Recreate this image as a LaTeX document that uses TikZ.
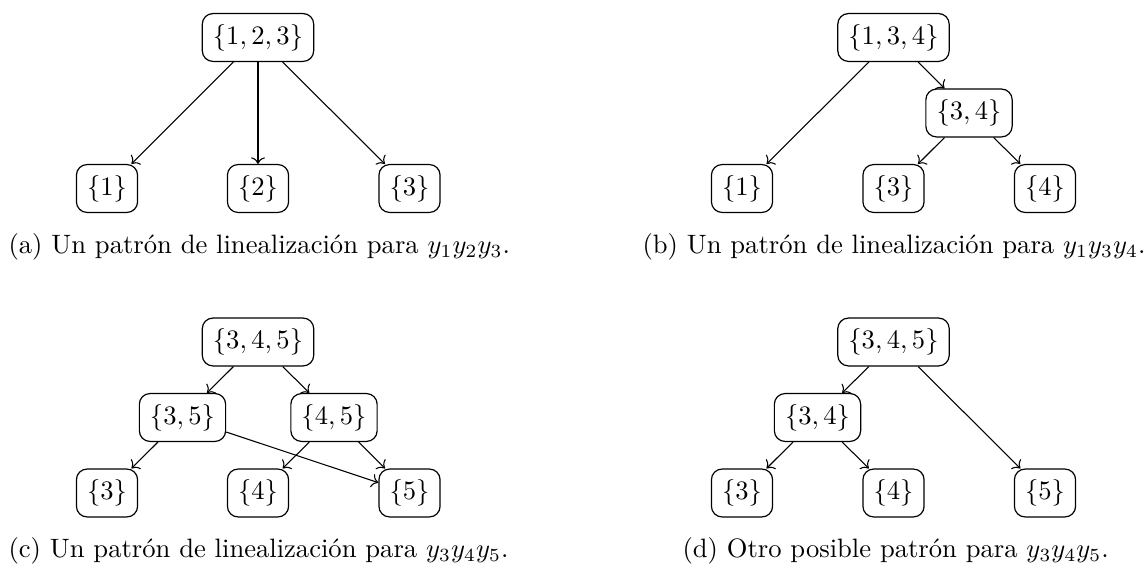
\documentclass[tikz,border=0pt]{standalone}
\usetikzlibrary{arrows.meta}
\begin{document}
\begin{tikzpicture}[x=0.376pt,y=-0.376pt,
  setbox/.style={draw,rounded corners=4pt,inner sep=4pt,line width=0.45pt},
  link/.style={->,line width=0.4pt},
  captext/.style={anchor=base west,inner sep=0pt,font=\normalsize}]
\useasboundingbox (0,0) rectangle (1145,568);
% (a)
\node[setbox] (a0) at (258,37.5) {$\{1,2,3\}$};
\node[setbox] (a1) at (107,188.5) {$\{1\}$};
\node[setbox] (a2) at (258,188.5) {$\{2\}$};
\node[setbox] (a3) at (409.5,188.5) {$\{3\}$};
\draw[link] (a0) -- (a1);
\draw[link] (a0) -- (a2);
\draw[link] (a0) -- (a3);
\node[captext] (ca) at (8,253.5) {(a) Un patrón de linealización para $y_1y_2y_3$.};
% (b)
\node[setbox] (b0) at (893.5,37.5) {$\{1,3,4\}$};
\node[setbox] (b1) at (969,113) {$\{3,4\}$};
\node[setbox] (b2) at (742,188.5) {$\{1\}$};
\node[setbox] (b3) at (893.5,188.5) {$\{3\}$};
\node[setbox] (b4) at (1045,188.5) {$\{4\}$};
\draw[link] (b0) -- (b2);
\draw[link] (b0) -- (b1);
\draw[link] (b1) -- (b3);
\draw[link] (b1) -- (b4);
\node[captext] (cb) at (642,253.5) {(b) Un patrón de linealización para $y_1y_3y_4$.};
% (c)
\node[setbox] (c0) at (258,342) {$\{3,4,5\}$};
\node[setbox] (c1) at (182.5,417.5) {$\{3,5\}$};
\node[setbox] (c2) at (334,417.5) {$\{4,5\}$};
\node[setbox] (c3) at (107,493) {$\{3\}$};
\node[setbox] (c4) at (258,493) {$\{4\}$};
\node[setbox] (c5) at (409.5,493) {$\{5\}$};
\draw[link] (c0) -- (c1);
\draw[link] (c0) -- (c2);
\draw[link] (c1) -- (c3);
\draw[link] (c1) -- (c5);
\draw[link] (c2) -- (c4);
\draw[link] (c2) -- (c5);
\node[captext] (cc) at (8,557.5) {(c) Un patrón de linealización para $y_3y_4y_5$.};
% (d)
\node[setbox] (d0) at (893.5,342) {$\{3,4,5\}$};
\node[setbox] (d1) at (817.5,417.5) {$\{3,4\}$};
\node[setbox] (d3) at (742,493) {$\{3\}$};
\node[setbox] (d4) at (893.5,493) {$\{4\}$};
\node[setbox] (d5) at (1045,493) {$\{5\}$};
\draw[link] (d0) -- (d1);
\draw[link] (d0) -- (d5);
\draw[link] (d1) -- (d3);
\draw[link] (d1) -- (d4);
\node[captext] (cd) at (682,557.5) {(d) Otro posible patrón para $y_3y_4y_5$.};
\end{tikzpicture}
\end{document}
